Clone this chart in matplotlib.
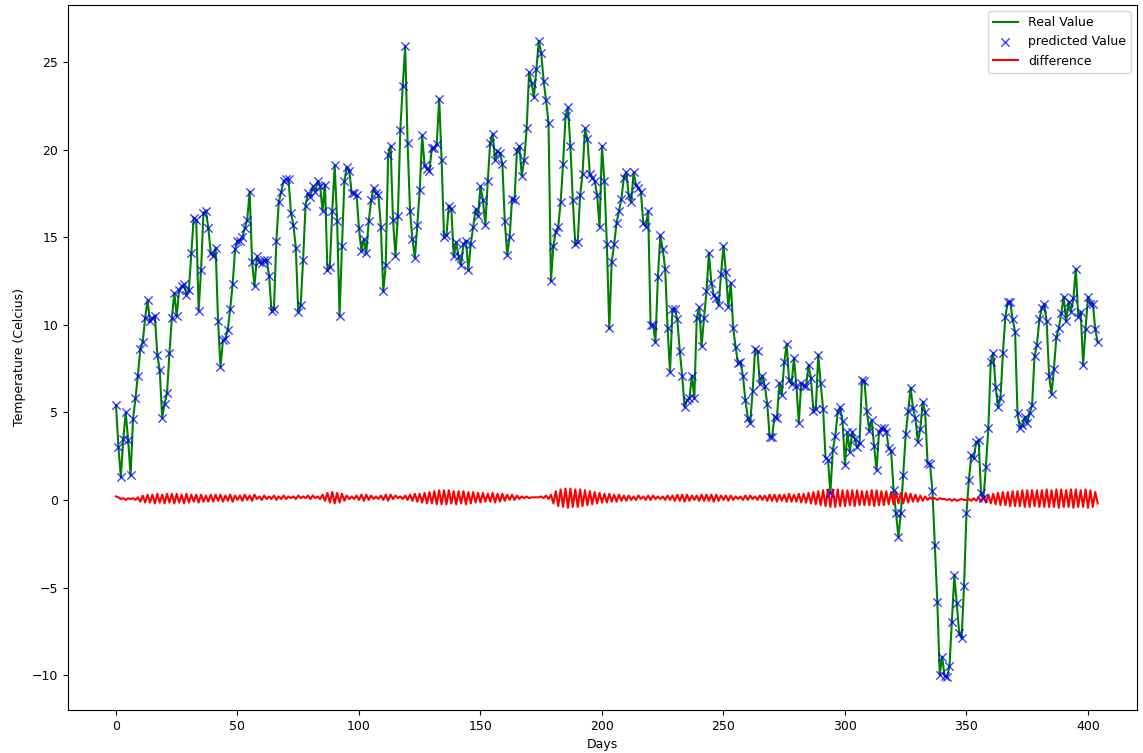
import numpy as np
import matplotlib
matplotlib.use('Agg')
import matplotlib.pyplot as plt

# daily temperature
real_value = [
    5.4, 3.0, 1.3, 3.5, 5.0, 3.4, 1.4, 4.6, 5.8, 7.1,
    8.6, 9.0, 10.4, 11.4, 10.2, 10.4, 10.5, 8.3, 7.4, 4.7,
    5.5, 6.1, 8.4, 10.4, 11.8, 10.5, 12.0, 12.2, 12.3, 11.7,
    12.0, 14.1, 16.1, 16.0, 10.8, 13.1, 16.4, 16.5, 15.5, 14.1,
    13.9, 14.4, 10.2, 7.6, 9.1, 9.2, 9.7, 10.9, 12.3, 14.3,
    14.8, 14.8, 15.0, 15.5, 16.0, 17.6, 13.6, 12.2, 13.9, 13.6,
    13.5, 13.7, 13.7, 12.8, 10.8, 10.9, 14.8, 17.0, 17.6, 18.2,
    18.3, 18.3, 16.4, 15.7, 14.4, 10.7, 11.1, 13.7, 16.8, 17.5,
    17.3, 17.9, 17.6, 18.2, 17.9, 16.5, 18.0, 13.1, 13.3, 16.5,
    19.1, 15.9, 10.5, 14.5, 18.2, 19.0, 18.8, 17.5, 17.5, 17.4,
    15.5, 14.2, 14.9, 14.1, 15.9, 17.1, 17.8, 17.5, 17.4, 15.6,
    11.9, 13.4, 19.7, 20.2, 16.0, 13.9, 16.2, 21.1, 23.6, 25.9,
    20.4, 16.5, 14.9, 13.8, 15.7, 17.7, 20.8, 19.1, 18.9, 18.8,
    20.1, 20.1, 20.3, 22.9, 19.4, 15.0, 15.1, 16.8, 16.6, 13.9,
    14.7, 13.9, 13.4, 14.6, 14.8, 13.1, 14.6, 15.6, 16.6, 16.2,
    17.9, 17.1, 15.7, 18.2, 20.4, 20.9, 19.4, 19.9, 19.8, 19.2,
    15.9, 14.0, 15.0, 17.2, 17.1, 19.9, 20.2, 18.5, 19.4, 21.2,
    24.4, 23.8, 23.0, 24.6, 26.2, 25.5, 23.9, 22.8, 21.5, 12.5,
    14.5, 15.3, 15.6, 17.0, 19.2, 21.9, 22.4, 20.2, 17.1, 14.6,
    14.7, 17.4, 18.6, 21.2, 20.6, 18.6, 18.4, 18.2, 17.4, 15.6,
    20.2, 18.2, 14.6, 9.8, 13.6, 14.6, 15.8, 16.5, 17.2, 18.4,
    18.7, 17.4, 17.0, 18.7, 18.0, 17.8, 17.6, 15.8, 15.6, 16.5,
    10.0, 10.0, 9.0, 12.7, 15.1, 14.3, 13.2, 9.8, 7.3, 10.9,
    10.9, 10.3, 8.5, 7.1, 5.3, 5.7, 5.8, 7.1, 5.8, 10.4,
    11.0, 8.8, 10.4, 11.9, 14.1, 12.4, 11.7, 11.5, 11.1, 12.9,
    14.5, 13.0, 11.0, 12.4, 9.8, 8.7, 7.8, 7.9, 7.1, 5.7,
    4.7, 4.4, 6.2, 8.6, 8.5, 6.6, 7.1, 6.5, 5.5, 3.6,
    3.6, 4.75, 4.7, 6.65, 6.0, 7.85, 8.9, 6.85, 6.6, 8.1,
    6.5, 4.4, 6.65, 6.5, 6.5, 7.7, 6.95, 5.1, 5.2, 8.3,
    6.65, 5.2, 2.4, 2.3, 0.4, 2.85, 3.65, 5.0, 5.3, 4.5,
    2.0, 3.85, 2.75, 3.9, 3.5, 3.0, 3.25, 6.85, 6.8, 5.05,
    3.95, 4.55, 3.05, 1.7, 3.85, 4.1, 4.1, 3.9, 2.95, 2.8,
    0.55, -0.75, -2.1, -0.75, 1.45, 3.75, 5.05, 6.4, 5.25, 4.65,
    3.3, 4.05, 5.6, 5.0, 2.1, 2.05, 0.5, -2.6, -5.8, -10.0,
    -8.95, -10.05, -10.1, -9.5, -6.95, -4.3, -5.9, -7.6, -7.9, -4.9,
    -0.75, 1.15, 2.55, 2.4, 3.3, 3.4, 0.4, 0.1, 1.9, 4.1,
    7.9, 8.4, 6.45, 5.3, 5.8, 8.4, 10.45, 11.3, 11.3, 10.3,
    9.6, 4.95, 4.1, 4.3, 4.75, 4.4, 4.95, 5.4, 8.2, 8.85,
    10.3, 10.95, 11.2, 10.2, 7.1, 6.05, 7.5, 9.3, 9.8, 10.65,
    11.6, 10.2, 11.3, 10.75, 11.5, 13.2, 10.45, 10.75, 7.7, 9.75,
    11.6, 11.2, 11.2, 9.75, 9.0,
]

# the predicted markers sit on the real curve in the reference
predicted_value = list(real_value)

difference = [
    0.20, 0.15, 0.05, 0.10, 0.00, 0.10, 0.05, 0.10, 0.00, 0.15,
    -0.10, 0.25, -0.15, 0.30, -0.15, 0.30, -0.20, 0.35, -0.15, 0.30,
    -0.20, 0.35, -0.15, 0.35, -0.20, 0.35, -0.15, 0.30, -0.20, 0.35,
    -0.15, 0.30, -0.10, 0.30, -0.15, 0.30, -0.10, 0.25, -0.10, 0.30,
    -0.10, 0.30, -0.05, 0.30, -0.10, 0.25, -0.05, 0.30, -0.10, 0.25,
    0.00, 0.25, -0.05, 0.30, 0.00, 0.25, -0.05, 0.30, 0.05, 0.20,
    0.00, 0.25, 0.05, 0.20, 0.05, 0.25, 0.00, 0.20, 0.05, 0.25,
    0.05, 0.20, 0.10, 0.20, 0.05, 0.25, 0.10, 0.20, 0.10, 0.25,
    0.05, 0.25, 0.10, 0.20, 0.05, 0.30, -0.05, 0.40, -0.15, 0.45,
    -0.20, 0.40, -0.15, 0.35, -0.05, 0.25, 0.05, 0.20, 0.05, 0.25,
    0.00, 0.30, -0.05, 0.30, 0.00, 0.25, 0.05, 0.20, 0.05, 0.25,
    0.00, 0.30, -0.05, 0.30, 0.05, 0.25, 0.10, 0.20, 0.05, 0.25,
    0.00, 0.30, -0.05, 0.35, -0.10, 0.35, -0.15, 0.40, -0.20, 0.45,
    -0.20, 0.50, -0.25, 0.55, -0.25, 0.55, -0.25, 0.55, -0.20, 0.50,
    -0.25, 0.50, -0.20, 0.50, -0.25, 0.45, -0.20, 0.45, -0.15, 0.40,
    -0.15, 0.40, -0.10, 0.35, -0.10, 0.40, -0.15, 0.35, -0.10, 0.35,
    -0.05, 0.30, 0.00, 0.30, 0.00, 0.25, 0.05, 0.20, 0.10, 0.20,
    0.10, 0.15, 0.15, 0.15, 0.15, 0.20, 0.10, 0.25, 0.05, 0.30,
    -0.20, 0.50, -0.35, 0.60, -0.40, 0.65, -0.45, 0.65, -0.40, 0.60,
    -0.40, 0.60, -0.35, 0.55, -0.30, 0.50, -0.25, 0.45, -0.20, 0.40,
    -0.15, 0.35, -0.15, 0.35, -0.10, 0.30, -0.10, 0.30, -0.05, 0.25,
    -0.05, 0.25, 0.00, 0.20, 0.00, 0.25, 0.05, 0.20, 0.00, 0.25,
    0.00, 0.25, 0.05, 0.20, 0.05, 0.20, 0.00, 0.25, 0.00, 0.25,
    -0.05, 0.30, -0.05, 0.30, -0.10, 0.30, -0.05, 0.25, 0.00, 0.25,
    -0.05, 0.30, -0.05, 0.30, -0.05, 0.30, -0.10, 0.30, -0.05, 0.25,
    0.00, 0.25, -0.05, 0.25, 0.00, 0.20, 0.05, 0.20, 0.00, 0.25,
    0.00, 0.25, 0.05, 0.20, 0.00, 0.25, 0.00, 0.25, -0.05, 0.30,
    -0.05, 0.30, -0.10, 0.30, -0.05, 0.30, -0.10, 0.35, -0.10, 0.30,
    -0.10, 0.35, -0.15, 0.35, -0.15, 0.40, -0.20, 0.45, -0.25, 0.50,
    -0.30, 0.55, -0.35, 0.60, -0.40, 0.60, -0.40, 0.60, -0.35, 0.55,
    -0.35, 0.55, -0.30, 0.55, -0.35, 0.55, -0.30, 0.50, -0.30, 0.50,
    -0.30, 0.55, -0.35, 0.55, -0.30, 0.50, -0.30, 0.50, -0.25, 0.45,
    -0.25, 0.45, -0.20, 0.40, -0.20, 0.40, -0.15, 0.35, -0.10, 0.30,
    -0.10, 0.25, -0.05, 0.20, 0.00, 0.15, 0.05, 0.10, 0.00, 0.10,
    0.05, 0.05, 0.00, 0.05, -0.05, 0.05, -0.05, 0.00, 0.05, 0.00,
    0.00, 0.05, -0.05, 0.10, -0.05, 0.15, -0.10, 0.20, -0.15, 0.30,
    -0.20, 0.35, -0.25, 0.40, -0.30, 0.45, -0.30, 0.45, -0.35, 0.50,
    -0.35, 0.50, -0.35, 0.55, -0.40, 0.55, -0.40, 0.55, -0.35, 0.55,
    -0.40, 0.55, -0.40, 0.60, -0.40, 0.55, -0.40, 0.60, -0.45, 0.60,
    -0.40, 0.55, -0.40, 0.60, -0.45, 0.60, -0.40, 0.55, -0.40, 0.60,
    -0.45, 0.55, -0.40, 0.45, -0.20,
]

days = np.arange(len(real_value))

plt.rcParams['font.size'] = 9
fig = plt.figure(figsize=(11.43, 7.53), dpi=100)
ax = fig.add_axes([0.0595, 0.0571, 0.9353, 0.9363])

ax.plot(days, real_value, color='green', lw=1.5, label='Real Value')
ax.scatter(days, predicted_value, marker='x', color='blue', s=36, lw=1.0,
           alpha=0.75, label='predicted Value', zorder=3)
ax.plot(days, difference, color='red', lw=1.5, label='difference')

ax.set_xlim(-19.75, 420.2)
ax.set_ylim(-11.99, 28.25)
ax.set_xticks(range(0, 401, 50))
ax.set_yticks(range(-10, 26, 5))
ax.set_xlabel('Days')
ax.set_ylabel('Temperature (Celcius)')
ax.legend(loc='upper right')

fig.savefig('out.png', dpi=100)
